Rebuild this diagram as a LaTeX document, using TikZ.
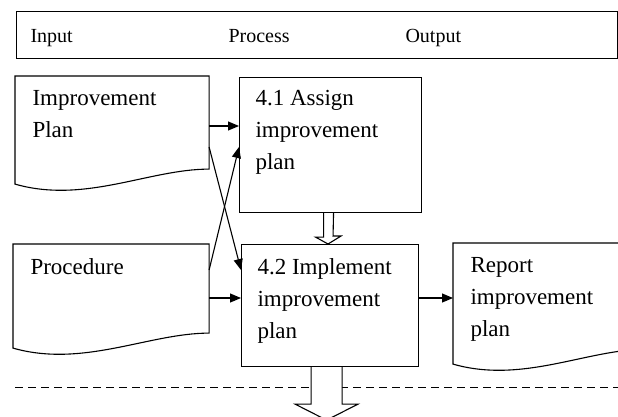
\documentclass[tikz,border=0pt]{standalone}
\usepackage{fontspec}
\setmainfont{Liberation Serif}
\usetikzlibrary{positioning,calc,arrows.meta}
\tikzset{
	chart/.style={x=1pt,y=-1pt,>={Triangle[length=11pt,width=9pt]},line width=1.1pt},
	task/.style={rectangle,draw,inner sep=0pt,anchor=north west},
	paper/.style={rectangle,inner sep=0pt,anchor=north west},
	caption/.style={anchor=north west,inner sep=0pt,align=left,
		font=\fontsize{23}{32}\selectfont},
	heading/.style={anchor=base west,inner sep=0pt,font=\fontsize{20}{24}\selectfont},
	hollow/.style={draw,fill=white,line width=1.1pt},
	divider/.style={dash pattern=on 8pt off 5pt,line width=1pt}
}
% document outline with a wavy lower edge
\newcommand{\paperedge}[1]{%
	\draw (#1.north west) -- (#1.north east) -- ($(#1.south east)+(0,-15)$)
	.. controls ($(#1.south east)+(-60,-15)$) and ($(#1.south west)+(70,20)$) .. (#1.south west) -- cycle;}

\begin{document}
\begin{tikzpicture}[chart]
		\useasboundingbox (0,0) rectangle (618,416);
		\clip (0,0) rectangle (618,416);
		
		% header
		\node[task, minimum width=601, minimum height=47] (hdr) at (16,11) {};
		\node[heading] (inp) at (30,42) {Input};
		\node[heading] (prc) at (228,42) {Process};
		\node[heading] (out) at (405,42) {Output};
		
		% boxes
		\node[paper, minimum width=193, minimum height=107] (imp) at (15,76) {};
		\node[paper, minimum width=195, minimum height=103] (pro) at (13,244) {};
		\node[task, minimum width=182, minimum height=135] (asg) at (239,77) {};
		\node[task, minimum width=177, minimum height=122] (ipl) at (241,244) {};
		\node[paper, minimum width=193, minimum height=120] (rep) at (453,243) {};
		\paperedge{imp}
		\paperedge{pro}
		\paperedge{rep}
		
		\node[caption] (impt) at (32,90) {Improvement\\Plan};
		\node[caption] (prot) at (30,258) {Procedure};
		\node[caption] (asgt) at (255,90) {4.1 Assign\\improvement\\plan};
		\node[caption] (iplt) at (257,258) {4.2 Implement\\improvement\\plan};
		\node[caption] (rept) at (470,257) {Report\\improvement\\plan};
		
		% flows
		\path[->] ([yshift=-50pt]imp.north east) edge ([yshift=-49pt]asg.north west);
		\path[->] ([yshift=-71pt]imp.north east) edge ([yshift=-26pt]ipl.north west);
		\path[->] ([yshift=-26pt]pro.north east) edge ([yshift=-70pt]asg.north west);
		\path[->] ([yshift=-54pt]pro.north east) edge ([yshift=-54pt]ipl.north west);
		\path[->] ([yshift=-54pt]ipl.north east) edge ([yshift=-55pt]rep.north west);
		
		% dashed boundary
		\coordinate (dl) at (15,387);
		\coordinate (dr) at (618,387);
		\draw[divider] (dl) -- (dr);
		
		% hollow arrows
		\draw[hollow] ($(asg.south)+(-7,0)$) -- ++(0,24) -- ++(-8,0) -- ($(ipl.north)+(-2,0)$)
			-- ++(13,-8) -- ++(-8,0) -- ($(asg.south)+(3,0)$);
		\draw[hollow] ($(ipl.south)+(-19,0)$) -- ++(0,37) -- ++(-16,0) -- ($(ipl.south)+(-3.5,53)$)
			-- ++(31.5,-16) -- ++(-16,0) -- ($(ipl.south)+(12,0)$);
		
\end{tikzpicture}
\end{document}
